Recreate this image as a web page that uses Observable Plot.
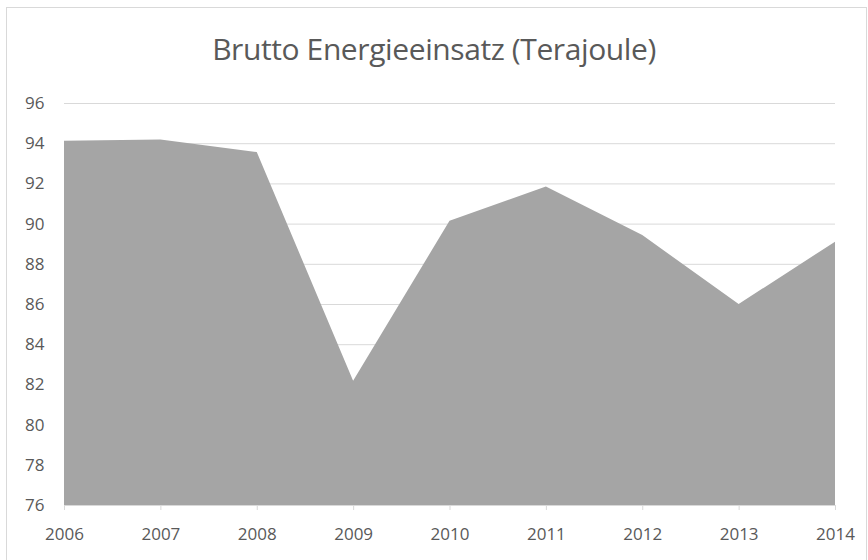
<!DOCTYPE html>
<html>
<head>
<meta charset="utf-8">
<script src="https://cdn.jsdelivr.net/npm/d3@7"></script>
<script src="https://cdn.jsdelivr.net/npm/@observablehq/plot@0.6"></script>
<style>
  html, body { margin: 0; padding: 0; background: #fff; }
  #wrap { position: relative; width: 868px; height: 560px; overflow: hidden; }
  #frame { position: absolute; left: 6px; top: 7px; width: 861px; height: 560px; border: 1px solid #d9d9d9; box-sizing: border-box; }
  #title { position: absolute; left: 0; top: 29px; width: 868px; text-align: center; font-family: "Open Sans", sans-serif; font-size: 30px; line-height: 1.362; color: #595959; letter-spacing: -0.4px; }
  #chart { position: absolute; left: 0; top: 0; }
</style>
</head>
<body>
<div id="wrap">
  <div id="frame"></div>
  <div id="title">Brutto Energieeinsatz (Terajoule)</div>
  <div id="chart"></div>
</div>
<script>
const years = [2006, 2007, 2008, 2009, 2010, 2011, 2012, 2013, 2014];
const values = [94.12, 94.19, 93.56, 82.18, 90.14, 91.84, 89.43, 86.0, 89.1];
const yTicks = [76, 78, 80, 82, 84, 86, 88, 90, 92, 94, 96];

const data = years.map((y, i) => ({year: y, value: values[i]}));

const chart = Plot.plot({
  width: 868,
  height: 560,
  marginTop: 103,
  marginBottom: 55,
  marginLeft: 64,
  marginRight: 33,
  style: {background: "transparent", fontFamily: "'Open Sans', sans-serif", fontSize: "17px", color: "#595959"},
  x: {domain: [2006, 2014], label: null},
  y: {domain: [76, 96], label: null},
  marks: [
    Plot.gridY(yTicks, {stroke: "#d9d9d9", strokeOpacity: 1, strokeWidth: 1}),
    Plot.areaY(data, {x: "year", y1: 76, y2: "value", fill: "#a5a5a5"}),
    Plot.ruleY([76], {stroke: "#d9d9d9", strokeWidth: 1}),
    Plot.axisX({ticks: years, tickFormat: d => String(d), tickSize: 5, tickPadding: 17, stroke: "#d9d9d9", fill: "#595959", fontSize: 17, label: null}),
    Plot.axisY({ticks: yTicks, tickSize: 0, tickPadding: 20, fill: "#595959", fontSize: 17, label: null})
  ]
});
document.getElementById("chart").appendChild(chart);
</script>
</body>
</html>
